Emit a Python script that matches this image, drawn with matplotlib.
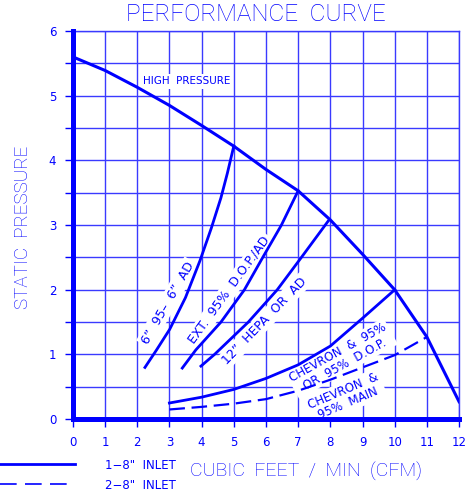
import matplotlib.pyplot as plt
import numpy as np

BLUE = '#0000ff'
GRID = '#3a3aff'

# fan curve (1-8" inlet, high pressure)
fan_x = [0, 1, 2, 3, 4, 5, 6, 7, 8, 9, 10, 11, 12]
fan_y = [5.6, 5.39, 5.13, 4.85, 4.54, 4.22, 3.86, 3.53, 3.08, 2.55, 2.0, 1.27, 0.27]

# filter system curves
ad6_x = [2.24, 2.6, 3.01, 3.5, 3.95, 4.3, 4.6, 4.8, 5.0]
ad6_y = [0.8, 1.07, 1.39, 1.88, 2.45, 2.95, 3.42, 3.8, 4.22]

ext_x = [3.4, 3.82, 4.6, 5.33, 5.9, 6.48, 7.0]
ext_y = [0.79, 1.07, 1.5, 2.0, 2.5, 3.0, 3.53]

hepa_x = [3.98, 4.4, 5.45, 6.35, 7.1, 7.93]
hepa_y = [0.82, 1.0, 1.5, 2.0, 2.5, 3.06]

chev_x = [3.0, 4.0, 5.0, 6.0, 7.0, 8.0, 9.0, 10.0]
chev_y = [0.25, 0.34, 0.46, 0.63, 0.84, 1.13, 1.56, 2.0]

main_x = [3.0, 4.0, 5.0, 6.0, 7.0, 8.0, 9.0, 10.0, 11.0]
main_y = [0.15, 0.19, 0.24, 0.31, 0.44, 0.61, 0.8, 0.99, 1.27]

x_ticks = list(range(0, 13))
y_ticks = list(range(0, 7))

fig = plt.figure(figsize=(4.67, 4.92), dpi=100)
ax = fig.add_axes([0.156, 0.148, 0.827, 0.789])

ax.plot(fan_x, fan_y, color=BLUE, lw=2.2, zorder=3)
for xs, ys in [(ad6_x, ad6_y), (ext_x, ext_y), (hepa_x, hepa_y), (chev_x, chev_y)]:
    ax.plot(xs, ys, color=BLUE, lw=2.0, zorder=3)
ax.plot(main_x, main_y, color=BLUE, lw=1.6, dashes=(7, 3), zorder=3)

ax.set_xlim(0, 12)
ax.set_ylim(0, 6)
ax.set_xticks(x_ticks)
ax.set_yticks(y_ticks)
ax.set_yticks(np.arange(0.5, 6, 1.0), minor=True)
ax.grid(True, which='major', color=GRID, lw=1.0)
ax.grid(True, which='minor', axis='y', color=GRID, lw=1.0)
ax.set_axisbelow(True)
ax.tick_params(which='both', colors=BLUE, length=6, width=1.0, labelsize=8.5, pad=6)
ax.tick_params(which='minor', labelleft=False)

for s in ['left', 'bottom']:
    ax.spines[s].set_color(BLUE)
    ax.spines[s].set_linewidth(3.6)
    ax.spines[s].set_zorder(4)
for s in ['top', 'right']:
    ax.spines[s].set_color(GRID)
    ax.spines[s].set_linewidth(1.0)

box = dict(facecolor='white', edgecolor='none', pad=1.5)
lab = dict(color=BLUE, fontsize=9, ha='center', va='center', bbox=box, zorder=1)
ax.text(3.54, 5.22, 'HIGH  PRESSURE', **{**lab, 'fontsize': 7.5})
ax.text(2.95, 1.80, '6\u201d  95\u2013  6\u201d  AD', rotation=60, **lab)
ax.text(4.86, 2.0, 'EXT.  95%  D.O.P./AD', rotation=54, **lab)
ax.text(5.95, 1.52, '12\u201d  HEPA  OR  AD', rotation=46, **lab)
ax.text(8.34, 0.94, 'CHEVRON  &  95%\nOR  95%  D.O.P.', rotation=29,
        linespacing=1.0, multialignment='center', **{**lab, 'fontsize': 8.5})
ax.text(8.47, 0.34, 'CHEVRON  &\n95%  MAIN', rotation=23,
        linespacing=1.0, multialignment='center', **{**lab, 'fontsize': 8.5})

big = dict(color=BLUE, ha='center', va='center', family='Roboto', weight='light')
fig.text(0.548, 0.970, 'PERFORMANCE  CURVE', fontsize=17.5, **big)
fig.text(0.05, 0.537, 'STATIC  PRESSURE', fontsize=13.5, rotation=90, **big)
fig.text(0.655, 0.041, 'CUBIC  FEET  /  MIN  (CFM)', fontsize=14, **big)

# legend drawn by hand at bottom left
fig.add_artist(plt.Line2D([0.0, 0.16], [0.057, 0.057], color=BLUE, lw=2.0, transform=fig.transFigure))
fig.add_artist(plt.Line2D([0.0, 0.16], [0.016, 0.016], color=BLUE, lw=1.2, dashes=(10, 5),
                          transform=fig.transFigure))
fig.text(0.225, 0.053, '1\u22128"  INLET', color=BLUE, fontsize=8.5, va='center')
fig.text(0.225, 0.013, '2\u22128"  INLET', color=BLUE, fontsize=8.5, va='center')

fig.savefig('out.png', dpi=100)
